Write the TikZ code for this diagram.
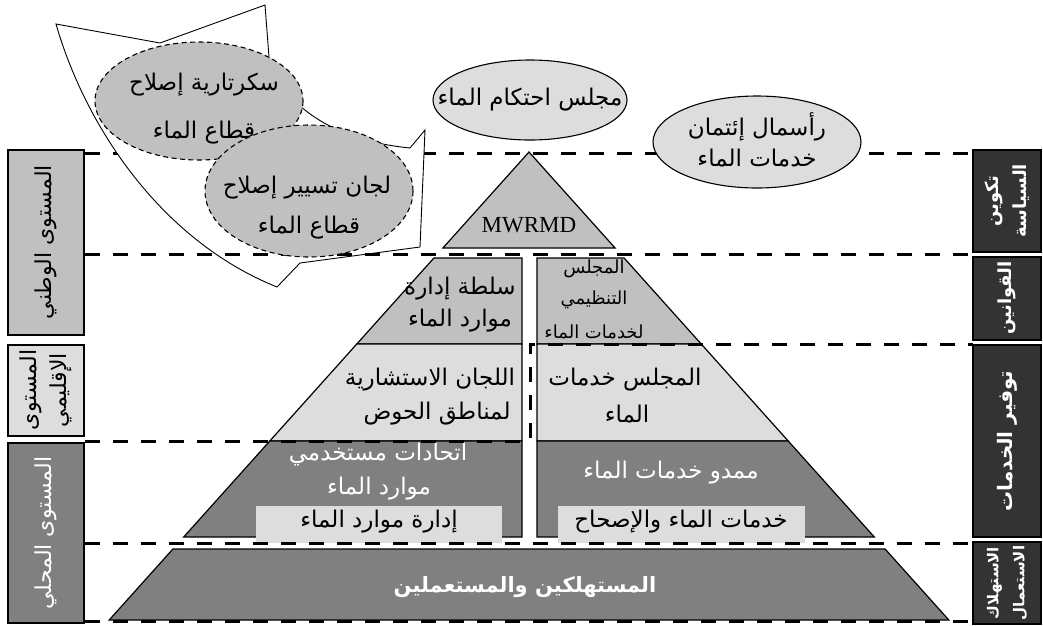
\documentclass[tikz,border=0pt]{standalone}
\usepackage{fontspec}
\setmainfont{Liberation Serif}
\newfontfamily\arf[Script=Arabic]{DejaVu Sans}
\TeXXeTstate=1
\newcommand{\AR}[1]{{\arf\beginR #1\endR}}
\definecolor{midg}{HTML}{C0C0C0}
\definecolor{lightg}{HTML}{DDDDDD}
\definecolor{darkg}{HTML}{808080}
\definecolor{nightg}{HTML}{333333}
\tikzset{
  tier/.style={draw=black, line width=1.2pt, line join=miter},
  divider/.style={draw=black, line width=3pt, dash pattern=on 15pt off 13pt},
  dashell/.style={draw=black, line width=1.1pt, dash pattern=on 5pt off 3.5pt, fill=midg},
  solell/.style={draw=black, line width=1.1pt, fill=lightg},
  artext/.style={inner sep=0pt, font=\fontsize{23}{26}\selectfont, align=center},
  smalltext/.style={inner sep=0pt, font=\fontsize{18}{22}\selectfont, align=center},
  sidetext/.style={inner sep=0pt, rotate=90, font=\fontsize{22}{30}\selectfont, align=center},
  boldside/.style={inner sep=0pt, rotate=90, text=white, font=\bfseries\fontsize{20}{29}\selectfont, align=center}
}
\begin{document}
\begin{tikzpicture}[x=1pt,y=-1pt]
\useasboundingbox (0,0) rectangle (1043,625);

% top dashed line (under the callout)
\draw[divider] (85,153) -- (973,153);

% callout bubble
\draw[fill=white, line width=0.9pt, line join=miter]
  (56,24) -- (160,43) -- (265,5) -- (270,70)
  .. controls (300,120) and (350,142) .. (410,148)
  -- (425,130) -- (420,247) -- (300,263) -- (277,287)
  .. controls (160,240) and (85,125) .. cycle;

\draw[divider] (85,254) -- (973,254);

% ellipses
\path[dashell] (199,101) ellipse [x radius=104, y radius=59];
\node[artext] (secA) at (204,85) {\AR{سكرتارية إصلاح}};
\node[artext] (secB) at (204,133) {\AR{قطاع الماء}};
\path[dashell] (309,191) ellipse [x radius=104, y radius=66];
\node[artext] (comA) at (307,188) {\AR{لجان تسيير إصلاح}};
\node[artext] (comB) at (309,228) {\AR{قطاع الماء}};
\path[solell] (530,100) ellipse [x radius=97, y radius=40];
\node[artext] (arb) at (530,100) {\AR{مجلس احتكام الماء}};
\path[solell] (757,142) ellipse [x radius=104, y radius=46];
\node[artext] (fundA) at (757,127) {\AR{رأسمال إئتمان}};
\node[artext] (fundB) at (757,158) {\AR{خدمات الماء}};

% pyramid
\path[tier, fill=midg] (529,152) -- (615.1,248) -- (442.9,248) -- cycle;
\node[inner sep=0pt, font=\fontsize{23}{24}\selectfont] (mw) at (529,225) {MWRMD};

\path[tier, fill=midg] (433.9,258) -- (522,258) -- (522,344) -- (356.8,344) -- cycle;
\path[tier, fill=midg] (537,258) -- (624.1,258) -- (701.2,344) -- (537,344) -- cycle;
\path[tier, fill=lightg] (356.8,344) -- (522,344) -- (522,441) -- (269.8,441) -- cycle;
\path[tier, fill=lightg] (537,344) -- (701.2,344) -- (788.2,441) -- (537,441) -- cycle;
\path[tier, fill=darkg] (269.8,441) -- (522,441) -- (522,537) -- (183.7,537) -- cycle;
\path[tier, fill=darkg] (537,441) -- (788.2,441) -- (874.3,537) -- (537,537) -- cycle;
\path[tier, fill=darkg] (172.9,549) -- (885.1,549) -- (948.8,620) -- (109.2,620) -- cycle;

\fill[lightg] (256,506) rectangle (502,543);
\fill[lightg] (558,506) rectangle (805,543);

\node[artext] (authA) at (460,289) {\AR{سلطة إدارة}};
\node[artext] (authB) at (460,321) {\AR{موارد الماء}};
\node[smalltext] (regA) at (594,269) {\AR{المجلس}};
\node[smalltext] (regB) at (594,300) {\AR{التنظيمي}};
\node[smalltext] (regC) at (594,332) {\AR{لخدمات الماء}};
\node[artext] (basA) at (430,380) {\AR{اللجان الاستشارية}};
\node[artext] (basB) at (437,414) {\AR{لمناطق الحوض}};
\node[artext] (wsbA) at (625,380) {\AR{المجلس خدمات}};
\node[artext] (wsbB) at (627,414) {\AR{الماء}};
\node[artext, text=white] (wuaA) at (378,455) {\AR{اتحادات مستخدمي}};
\node[artext, text=white] (wuaB) at (379,489) {\AR{موارد الماء}};
\node[artext, text=white] (wspA) at (671,473) {\AR{ممدو خدمات الماء}};
\node[artext] (iwrm) at (379,522) {\AR{إدارة موارد الماء}};
\node[artext] (wss) at (681,522) {\AR{خدمات الماء والإصحاح}};
\node[artext, text=white, font=\bfseries\fontsize{21}{24}\selectfont] (cons) at (525,587) {\AR{المستهلكين والمستعملين}};

% dashed separators over the pyramid
\draw[divider] (85,441) -- (530,441) -- (530,344) -- (973,344);
\draw[divider] (85,543) -- (973,543);
\draw[divider] (85,621) -- (973,621);

% left level boxes
\draw[line width=1.2pt, fill=midg] (8,150) rectangle (84,335);
\node[sidetext] (natl) at (46,242) {\AR{المستوى الوطني}};
\draw[line width=1.2pt, fill=lightg] (8,345) rectangle (84,436);
\node[sidetext] (regl) at (46,390) {\AR{المستوى}\\\AR{الإقليمي}};
\draw[line width=1.2pt, fill=darkg] (8,443) rectangle (84,623);
\node[sidetext, text=white] (locl) at (46,533) {\AR{المستوى المحلي}};

% right function boxes
\draw[line width=1.2pt, fill=nightg] (973,150) rectangle (1041,252);
\node[boldside, font=\bfseries\fontsize{18}{28}\selectfont] (pol) at (1007,201) {\AR{تكوين}\\\AR{السياسة}};
\draw[line width=1.2pt, fill=nightg] (973,257) rectangle (1041,340);
\node[boldside, font=\bfseries\fontsize{18}{28}\selectfont] (law) at (1007,298) {\AR{القوانين}};
\draw[line width=1.2pt, fill=nightg] (973,345) rectangle (1041,537);
\node[boldside] (serv) at (1007,441) {\AR{توفير الخدمات}};
\draw[line width=1.2pt, fill=nightg] (973,542) rectangle (1041,624);
\node[boldside, font=\bfseries\fontsize{15}{26}\selectfont] (use) at (1007,583) {\AR{الاستهلاك}\\\AR{الاستعمال}};
\end{tikzpicture}
\end{document}
